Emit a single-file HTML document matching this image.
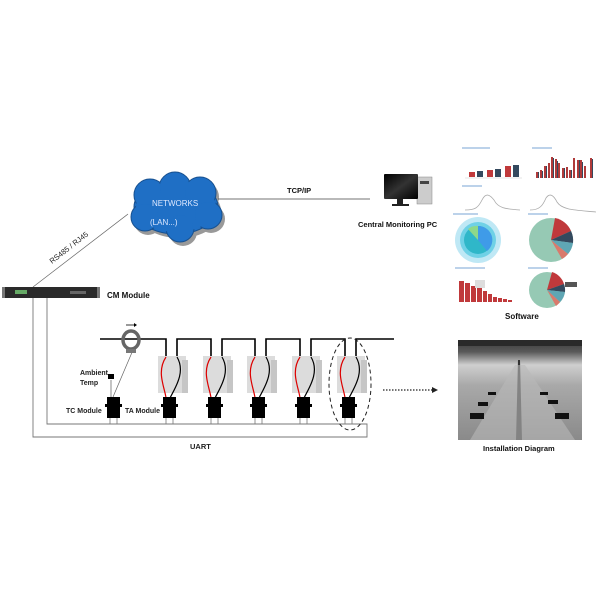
<!DOCTYPE html>
<html><head><style>
html,body{margin:0;padding:0;background:#fff;}
svg{display:block;font-family:"Liberation Sans",Arial,sans-serif;}
</style></head><body>
<svg width="600" height="600" viewBox="0 0 600 600">
<defs>
<linearGradient id="photo" x1="0" y1="0" x2="0" y2="1">
<stop offset="0" stop-color="#3a3a3a"/><stop offset="0.12" stop-color="#5a5a5a"/>
<stop offset="0.25" stop-color="#cfcfcf"/><stop offset="0.45" stop-color="#a9a9a9"/>
<stop offset="1" stop-color="#8a8a8a"/></linearGradient>
<linearGradient id="mon" x1="0" y1="0" x2="1" y2="1"><stop offset="0" stop-color="#000"/><stop offset="0.5" stop-color="#333"/><stop offset="1" stop-color="#000"/></linearGradient>
</defs>
<!-- cloud -->
<g transform="translate(3,4)" fill="#999">
<ellipse cx="176" cy="207" rx="42" ry="27"/><circle cx="150" cy="195" r="16"/><circle cx="175" cy="188" r="16"/><circle cx="200" cy="193" r="16"/><circle cx="145" cy="217" r="14"/><circle cx="180" cy="228" r="14"/><circle cx="208" cy="215" r="14"/></g>
<g fill="#1f6fc5" stroke="#17508f" stroke-width="1">
<ellipse cx="176" cy="207" rx="42" ry="27"/><circle cx="150" cy="195" r="16"/><circle cx="175" cy="188" r="16"/><circle cx="200" cy="193" r="16"/><circle cx="145" cy="217" r="14"/><circle cx="180" cy="228" r="14"/><circle cx="208" cy="215" r="14"/></g>
<g fill="#1f6fc5"><ellipse cx="176" cy="207" rx="40" ry="25"/><circle cx="150" cy="195" r="15"/><circle cx="175" cy="188" r="15"/><circle cx="200" cy="193" r="15"/><circle cx="145" cy="217" r="13"/><circle cx="180" cy="228" r="13"/><circle cx="208" cy="215" r="13"/></g>
<text x="152" y="206" font-size="8" fill="#dde8ff">NETWORKS</text>
<text x="150" y="225" font-size="8" fill="#dde8ff">(LAN...)</text>
<!-- TCP/IP -->
<line x1="218" y1="199" x2="370" y2="199" stroke="#444" stroke-width="0.8"/>
<text x="287" y="193" font-size="7.5" font-weight="bold" fill="#111">TCP/IP</text>
<!-- PC -->
<rect x="417" y="177" width="15" height="27" fill="#ccc" stroke="#888" stroke-width="0.5"/>
<rect x="420" y="181" width="9" height="3" fill="#444"/>
<rect x="384" y="174" width="34" height="25" rx="1" fill="url(#mon)"/>
<rect x="397" y="199" width="6" height="5" fill="#222"/><rect x="392" y="204" width="17" height="2" fill="#222"/>
<text x="358" y="227" font-size="7.5" font-weight="bold" fill="#111">Central Monitoring PC</text>
<!-- RS485 -->
<line x1="33" y1="287" x2="128" y2="214" stroke="#666" stroke-width="0.7"/>
<text transform="translate(52,264) rotate(-38)" font-size="7.5" fill="#222">RS485 / RJ45</text>
<!-- CM module -->
<rect x="2" y="287" width="98" height="11" fill="#2a2a2a"/>
<rect x="2" y="287" width="3" height="11" fill="#777"/><rect x="97" y="287" width="3" height="11" fill="#777"/>
<rect x="15" y="290" width="12" height="4" fill="#6a6"/>
<rect x="70" y="291" width="16" height="3" fill="#666"/>
<text x="107" y="298" font-size="8" font-weight="bold" fill="#111">CM Module</text>
<!-- UART lines -->
<g stroke="#777" stroke-width="0.9" fill="none">
<polyline points="33,298 33,437 367,437 367,424 47,424 47,298"/>
</g>
<text x="190" y="449" font-size="7.5" font-weight="bold" fill="#222">UART</text>
<!-- bus -->
<g stroke="#000" stroke-width="1.6" fill="none">
<polyline points="100,339 166,339 166,357"/>
<polyline points="177,357 177,339 211,339 211,357"/>
<polyline points="222,357 222,339 255,339 255,357"/>
<polyline points="266,357 266,339 300,339 300,357"/>
<polyline points="311,357 311,339 345,339 345,357"/>
<polyline points="356,357 356,339 394,339"/>
</g>
<!-- units -->
<g id="u">
<rect x="158" y="356" width="28" height="37" fill="#dcdcdc"/>
<rect x="182" y="360" width="6" height="33" fill="#c6c6c6"/>
<line x1="166" y1="410" x2="166" y2="424" stroke="#777" stroke-width="0.8"/>
<line x1="173" y1="410" x2="173" y2="424" stroke="#777" stroke-width="0.8"/>
<path d="M166,357 C156,372 165,388 166,398" stroke="#d00" stroke-width="1.2" fill="none"/>
<path d="M177,357 C186,372 175,388 170,398" stroke="#000" stroke-width="1.2" fill="none"/>
<rect x="163" y="397" width="13" height="21" fill="#000"/>
<rect x="161" y="404" width="17" height="3" fill="#000"/>
</g>
<use href="#u" x="45"/><use href="#u" x="89"/><use href="#u" x="134"/><use href="#u" x="179"/>
<!-- TC module -->
<line x1="110" y1="410" x2="110" y2="424" stroke="#777" stroke-width="0.8"/>
<line x1="117" y1="410" x2="117" y2="424" stroke="#777" stroke-width="0.8"/>
<rect x="107" y="397" width="13" height="21" fill="#000"/><rect x="105" y="404" width="17" height="3" fill="#000"/>
<line x1="111" y1="380" x2="111" y2="397" stroke="#555" stroke-width="0.7"/>
<rect x="108" y="374" width="6" height="5" fill="#000"/>
<line x1="113" y1="397" x2="133" y2="350" stroke="#666" stroke-width="0.7"/>
<ellipse cx="131" cy="340" rx="8" ry="9" fill="none" stroke="#666" stroke-width="3.5"/>
<rect x="126" y="349" width="10" height="4" fill="#777"/>
<line x1="126" y1="325" x2="134" y2="325" stroke="#000" stroke-width="0.8"/><path d="M134,323 L137,325 L134,327Z"/>
<text x="80" y="375" font-size="7" font-weight="bold" fill="#222">Ambient</text>
<text x="80" y="385" font-size="7" font-weight="bold" fill="#222">Temp</text>
<text x="66" y="413" font-size="7" font-weight="bold" fill="#222">TC Module</text>
<text x="125" y="413" font-size="7" font-weight="bold" fill="#222">TA Module</text>
<!-- dashed ellipse & arrow -->
<ellipse cx="350" cy="384" rx="21" ry="46" fill="none" stroke="#222" stroke-width="1" stroke-dasharray="4,3"/>
<line x1="383" y1="390" x2="433" y2="390" stroke="#222" stroke-width="1.3" stroke-dasharray="1.5,1.5"/>
<path d="M432,387 L438,390 L432,393Z" fill="#222"/>
<!-- software charts -->
<g font-size="2">
<line x1="462" y1="148" x2="490" y2="148" stroke="#7aa6d6" stroke-width="1"/>
<line x1="532" y1="148" x2="552" y2="148" stroke="#7aa6d6" stroke-width="1"/>
<rect x="469" y="172" width="6" height="5" fill="#c0393b"/><rect x="477" y="171" width="6" height="6" fill="#34495e"/>
<rect x="487" y="170" width="6" height="7" fill="#c0393b"/><rect x="495" y="169" width="6" height="8" fill="#34495e"/>
<rect x="505" y="166" width="6" height="11" fill="#c0393b"/><rect x="513" y="165" width="6" height="12" fill="#34495e"/>
<line x1="465" y1="178" x2="522" y2="178" stroke="#ccc" stroke-width="0.5"/>
<g fill="#b03a3a">
<rect x="536" y="172" width="2" height="6"/><rect x="540" y="170" width="2" height="8"/><rect x="544" y="166" width="2" height="12"/><rect x="548" y="163" width="2" height="15"/><rect x="551" y="157" width="2" height="21"/><rect x="555" y="159" width="2" height="19"/><rect x="558" y="163" width="2" height="15"/><rect x="562" y="168" width="2" height="10"/><rect x="566" y="167" width="2" height="11"/><rect x="569" y="170" width="2" height="8"/><rect x="573" y="158" width="2" height="20"/><rect x="577" y="160" width="2" height="18"/><rect x="580" y="160" width="2" height="18"/><rect x="584" y="166" width="2" height="12"/><rect x="590" y="158" width="2" height="20"/></g>
<g fill="#34495e"><rect x="538" y="172" width="1" height="6"/><rect x="542" y="171" width="1" height="7"/><rect x="546" y="166" width="1" height="12"/><rect x="553" y="158" width="1" height="20"/><rect x="557" y="161" width="1" height="17"/><rect x="564" y="168" width="1" height="10"/><rect x="571" y="170" width="1" height="8"/><rect x="579" y="160" width="1" height="18"/><rect x="582" y="162" width="1" height="16"/><rect x="592" y="159" width="1" height="19"/></g>
<line x1="462" y1="186" x2="482" y2="186" stroke="#7aa6d6" stroke-width="1"/>
<path d="M465,210 C475,210 478,208 482,200 C486,192 490,195 494,200 C498,208 505,209 520,210" stroke="#aaa" fill="none" stroke-width="0.8"/>
<path d="M530,210 C540,210 543,205 546,198 C550,192 554,196 557,202 C562,210 575,210 596,212" stroke="#aaa" fill="none" stroke-width="0.8"/>
<line x1="453" y1="214" x2="478" y2="214" stroke="#7aa6d6" stroke-width="1"/>
<line x1="528" y1="214" x2="548" y2="214" stroke="#7aa6d6" stroke-width="1"/>
<circle cx="478" cy="240" r="23" fill="#bfe8f5"/>
<circle cx="478" cy="240" r="18" fill="#6fd1e6"/>
<circle cx="478" cy="240" r="14" fill="#2fb7c9"/>
<path d="M478,240 L478,226 A14,14 0 0 1 487,251 Z" fill="#3f9be8"/>
<path d="M478,240 L468,229 A14,14 0 0 1 478,226 Z" fill="#8ed88a"/>
<circle cx="551" cy="240" r="22" fill="#96c9b4"/>
<path d="M551,240 L555,218 A22,22 0 0 1 571,231 Z" fill="#c0393b"/>
<path d="M551,240 L571,231 A22,22 0 0 1 573,243 Z" fill="#34495e"/>
<path d="M551,240 L573,243 A22,22 0 0 1 568,254 Z" fill="#5fa6b4"/>
<path d="M551,240 L568,254 A22,22 0 0 1 562,259 Z" fill="#d97a6c"/>
<line x1="455" y1="268" x2="485" y2="268" stroke="#7aa6d6" stroke-width="1"/>
<line x1="528" y1="268" x2="548" y2="268" stroke="#7aa6d6" stroke-width="1"/>
<g fill="#c0393b"><rect x="459" y="281" width="5" height="21"/><rect x="465" y="283" width="5" height="19"/><rect x="471" y="286" width="5" height="16"/><rect x="477" y="288" width="5" height="14"/><rect x="483" y="291" width="4" height="11"/><rect x="488" y="294" width="4" height="8"/><rect x="493" y="297" width="4" height="5"/><rect x="498" y="298" width="4" height="4"/><rect x="503" y="299" width="4" height="3"/><rect x="508" y="300" width="4" height="2"/></g>
<rect x="475" y="280" width="10" height="8" fill="#ddd"/>
<circle cx="547" cy="290" r="18" fill="#96c9b4"/>
<path d="M547,290 L552,272 A18,18 0 0 1 564,284 Z" fill="#c0393b"/>
<path d="M547,290 L564,284 A18,18 0 0 1 565,292 Z" fill="#34495e"/>
<path d="M547,290 L565,292 A18,18 0 0 1 560,302 Z" fill="#5fa6b4"/>
<path d="M547,290 L560,302 A18,18 0 0 1 556,306 Z" fill="#d97a6c"/>
<rect x="565" y="282" width="12" height="5" fill="#555"/>
</g>
<text x="505" y="319" font-size="8" font-weight="bold" fill="#111">Software</text>
<!-- photo -->
<rect x="458" y="340" width="124" height="100" fill="url(#photo)"/>
<rect x="458" y="340" width="124" height="6" fill="#2a2a2a"/>
<path d="M518,360 L520,360 L522,440 L516,440Z" fill="#333"/>
<path d="M470,440 L515,365 L525,365 L575,440Z" fill="#b9b9b9" opacity="0.6"/>
<g fill="#111"><rect x="470" y="413" width="14" height="6"/><rect x="478" y="402" width="10" height="4"/><rect x="555" y="413" width="14" height="6"/><rect x="548" y="400" width="10" height="4"/><rect x="488" y="392" width="8" height="3"/><rect x="540" y="392" width="8" height="3"/></g>
<text x="483" y="451" font-size="7.5" font-weight="bold" fill="#111">Installation Diagram</text>
</svg>
</body></html>
